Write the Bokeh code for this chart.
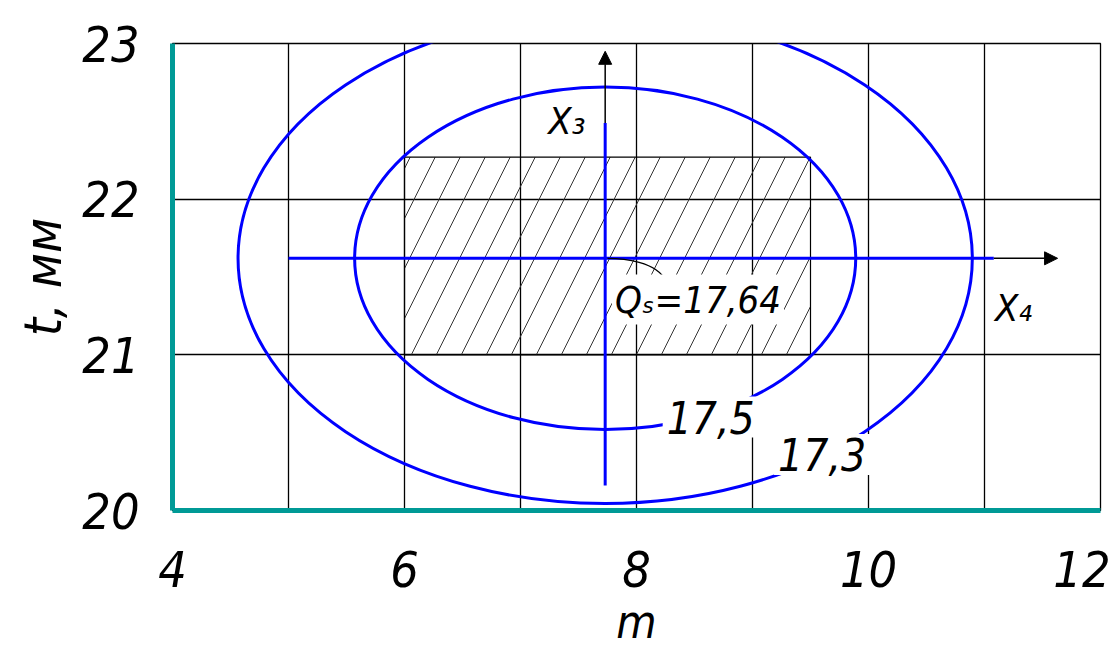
from bokeh.plotting import figure
from bokeh.models import Range1d, FixedTicker, Label, Arrow, NormalHead
from bokeh.embed import file_html
from bokeh.resources import INLINE

# axis ticks and grid
x_ticks = [4, 6, 8, 10, 12]
y_ticks = [20, 21, 22, 23]
x_grid = [5, 6, 7, 8, 9, 10, 11]
y_grid = [21, 22]

# contours of Q around the optimum (ellipses in m-t plane)
contour_levels = ["17,3", "17,5"]
center_m = 7.73
center_t = 21.62
contour_width = [6.33, 4.32]
contour_height = [3.15, 2.20]
contour_label_m = [9.60, 8.64]
contour_label_t = [20.36, 20.60]

# optimal region (hatched)
region_m = [6.0, 9.5]
region_t = [21.0, 22.27]
optimum_text = "Qₛ=17,64"
optimum_label_m = 8.53
optimum_label_t = 21.355

# coded factor axes X3 (vertical) and X4 (horizontal)
x4_span = [5.0, 11.08, 11.63]
x3_span = [20.16, 22.49, 22.95]

FONT = "DejaVu Sans Condensed"
BLUE = "#0000ff"
TEAL = "#009a96"

p = figure(width=1110, height=651, output_backend="svg", toolbar_location=None,
           x_range=Range1d(4, 12), y_range=Range1d(20, 23),
           min_border_left=172, min_border_right=10,
           min_border_top=43, min_border_bottom=141)
p.outline_line_color = "black"
p.outline_line_width = 1.3
p.background_fill_color = "white"
p.border_fill_color = "white"

p.xaxis.axis_label = "m"
p.yaxis.axis_label = "t, мм"

# axes
for ax, ticks, standoff, label_standoff, label_size in ((p.xaxis[0], x_ticks, 40, 5, "46px"),
                                                        (p.yaxis[0], y_ticks, 33, 6, "52px")):
    ax.ticker = FixedTicker(ticks=ticks)
    ax.axis_line_color = TEAL
    ax.axis_line_width = 5
    ax.major_tick_line_color = None
    ax.minor_tick_line_color = None
    ax.major_tick_out = 0
    ax.major_tick_in = 0
    ax.major_label_text_font = FONT
    ax.major_label_text_font_style = "italic"
    ax.major_label_text_font_size = "50px"
    ax.major_label_text_color = "black"
    ax.major_label_standoff = standoff
    ax.axis_label_text_font = FONT
    ax.axis_label_text_font_style = "italic"
    ax.axis_label_text_font_size = label_size
    ax.axis_label_text_color = "black"
    ax.axis_label_standoff = label_standoff

# grid
p.xgrid.ticker = FixedTicker(ticks=x_grid)
p.ygrid.ticker = FixedTicker(ticks=y_grid)
for g in (p.xgrid[0], p.ygrid[0]):
    g.grid_line_color = "black"
    g.grid_line_width = 1.3
    g.grid_line_alpha = 1

# hatched optimal region
p.quad(left=[region_m[0]], right=[region_m[1]], bottom=[region_t[0]], top=[region_t[1]],
       fill_color=None, line_color="black", line_width=1.2,
       hatch_pattern="/", hatch_scale=50, hatch_weight=1, hatch_color="#333333")

# contour ellipses
p.ellipse(x=[center_m] * len(contour_width), y=[center_t] * len(contour_width),
          width=contour_width, height=contour_height,
          fill_color=None, line_color=BLUE, line_width=3)

# coded axes
p.segment(x0=[x4_span[0]], y0=[center_t], x1=[x4_span[1]], y1=[center_t],
          line_color=BLUE, line_width=3)
p.segment(x0=[center_m], y0=[x3_span[0]], x1=[center_m], y1=[x3_span[1]],
          line_color=BLUE, line_width=3)
p.add_layout(Arrow(end=NormalHead(size=13, fill_color="black", line_color="black"),
                   x_start=x4_span[1], y_start=center_t, x_end=x4_span[2], y_end=center_t,
                   line_color="black", line_width=1.5))
p.add_layout(Arrow(end=NormalHead(size=13, fill_color="black", line_color="black"),
                   x_start=center_m, y_start=x3_span[1], x_end=center_m, y_end=x3_span[2],
                   line_color="black", line_width=1.5))

# leader from the optimum point to its value
p.bezier(x0=[center_m + 0.02], y0=[center_t], x1=[optimum_label_m - 0.28], y1=[optimum_label_t + 0.12],
         cx0=[center_m + 0.15], cy0=[center_t], cx1=[optimum_label_m - 0.35], cy1=[center_t - 0.02],
         line_color="black", line_width=1.2)

# contour labels
for txt, lm, lt in zip(contour_levels, contour_label_m, contour_label_t):
    p.add_layout(Label(x=lm, y=lt, text=txt, text_align="center", text_baseline="middle",
                       text_font=FONT, text_font_style="italic", text_font_size="44px",
                       text_color="black", background_fill_color="white", padding=4))

p.add_layout(Label(x=optimum_label_m, y=optimum_label_t, text=optimum_text,
                   text_align="center", text_baseline="middle",
                   text_font=FONT, text_font_style="italic", text_font_size="38px",
                   text_color="black", background_fill_color="white", padding=3))

p.add_layout(Label(x=7.40, y=22.50, text="X₃", text_align="center", text_baseline="middle",
                   text_font=FONT, text_font_style="italic", text_font_size="38px",
                   text_color="black"))
p.add_layout(Label(x=11.25, y=21.30, text="X₄", text_align="center", text_baseline="middle",
                   text_font=FONT, text_font_style="italic", text_font_size="38px",
                   text_color="black"))

open("out.html", "w").write(file_html(p, INLINE))
